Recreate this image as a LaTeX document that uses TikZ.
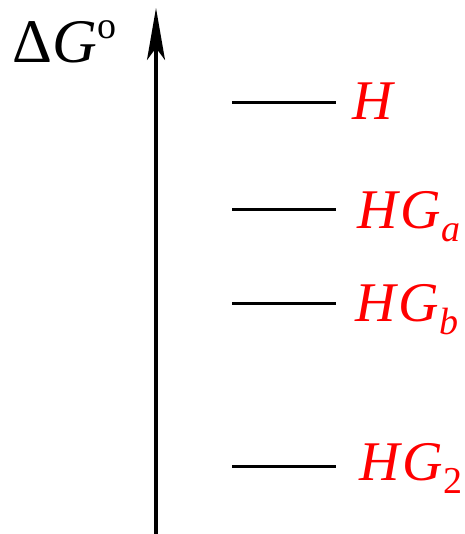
\documentclass[tikz,border=0pt]{standalone}
\usepackage{fontspec}
\setmainfont{Liberation Serif}
\usetikzlibrary{arrows.meta}
\newcommand\mysub[1]{\raisebox{-13pt}{\fontsize{38}{38}\selectfont #1}}
\begin{document}
\begin{tikzpicture}[x=1pt,y=-1pt,
  lvl/.style={line width=3pt},
  lab/.style={text=red, anchor=base west, inner sep=0pt, font=\fontsize{56}{56}\selectfont\itshape},
  axis/.style={line width=3.2pt, -{Stealth[length=52pt,width=18pt,inset=12pt]}}]
\useasboundingbox (0,0) rectangle (464,534);
\coordinate (bot) at (156,534);
\coordinate (top) at (156,8);
\draw[axis] (bot) -- (top);
\node[anchor=base west, inner sep=0pt, font=\fontsize{62}{62}\selectfont] (dg) at (12,63)
  {Δ\textit{G}\kern1pt\raisebox{24pt}{\fontsize{38}{38}\selectfont o}};
% levels
\coordinate (a1) at (232,103); \coordinate (a2) at (336,103);
\coordinate (b1) at (232,210); \coordinate (b2) at (336,210);
\coordinate (c1) at (232,303); \coordinate (c2) at (336,303);
\coordinate (d1) at (232,466); \coordinate (d2) at (336,466);
\draw[lvl] (a1) -- (a2);
\draw[lvl] (b1) -- (b2);
\draw[lvl] (c1) -- (c2);
\draw[lvl] (d1) -- (d2);
\node[lab] (la) at (352,120) {H};
\node[lab] (lb) at (357,229) {H\kern3pt G\mysub{a}};
\node[lab] (lc) at (355,321) {H\kern3pt G\mysub{b}};
\node[lab] (ld) at (359,480) {H\kern3pt G\mysub{\upshape 2}};
\end{tikzpicture}
\end{document}
